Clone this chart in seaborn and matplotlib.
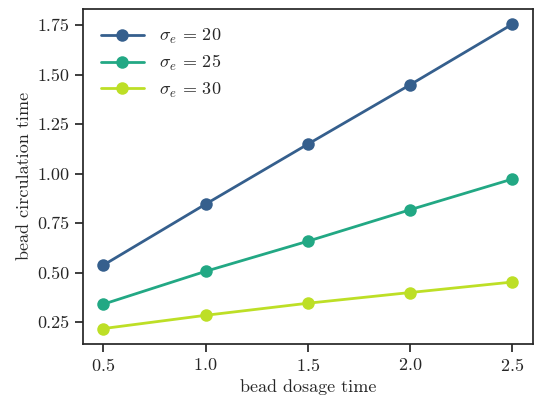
import pandas as pd
import matplotlib
matplotlib.use("Agg")
import matplotlib.pyplot as plt
from matplotlib.ticker import MultipleLocator, FormatStrFormatter
import seaborn as sns

# dados
dosage = [0.5, 1.0, 1.5, 2.0, 2.5]
sigma_labels = [r"$\sigma_e\,=\,20$", r"$\sigma_e\,=\,25$", r"$\sigma_e\,=\,30$"]
circ_20 = [0.538, 0.846, 1.149, 1.449, 1.755]
circ_25 = [0.341, 0.507, 0.659, 0.818, 0.973]
circ_30 = [0.218, 0.285, 0.346, 0.400, 0.453]

rows = []
for lab, vals in zip(sigma_labels, [circ_20, circ_25, circ_30]):
    for x, y in zip(dosage, vals):
        rows.append({"dosage": x, "circ": y, "sigma": lab})
df = pd.DataFrame(rows)

sns.set_theme(style="ticks")
plt.rcParams["font.family"] = "serif"
plt.rcParams["font.serif"] = ["cmr10"]
plt.rcParams["mathtext.fontset"] = "cm"
plt.rcParams["axes.formatter.use_mathtext"] = True
plt.rcParams["axes.unicode_minus"] = False

colors = list(plt.cm.viridis([0.3, 0.6, 0.9]))

fig, ax = plt.subplots(figsize=(5.34, 4.04), dpi=100)
sns.lineplot(data=df, x="dosage", y="circ", hue="sigma", palette=colors,
             marker="o", markersize=9, markeredgewidth=0, linewidth=2, ax=ax)

ax.set_xticks(dosage)
ax.yaxis.set_major_locator(MultipleLocator(0.25))
ax.yaxis.set_major_formatter(FormatStrFormatter("%.2f"))
ax.set_xlabel("bead dosage time", fontsize=13)
ax.set_ylabel("bead circulation time", fontsize=13)
ax.tick_params(labelsize=13)
ax.legend(title=None, frameon=False, loc="upper left", fontsize=13,
          handlelength=2.4, labelspacing=0.4, borderaxespad=0.6)

fig.subplots_adjust(left=0.155, right=0.998, top=0.978, bottom=0.149)
plt.savefig("out.png", dpi=100)
plt.close()
